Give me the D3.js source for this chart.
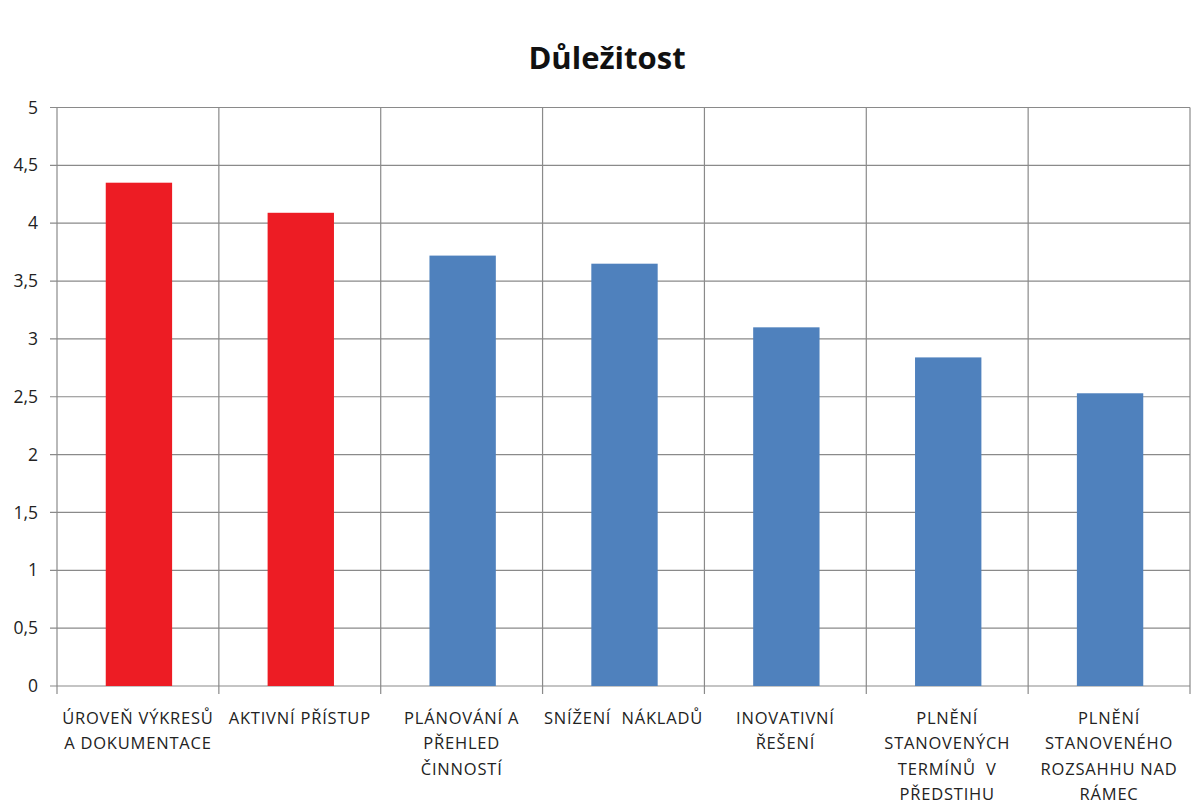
<!DOCTYPE html>
<html>
<head>
<meta charset="utf-8">
<script src="https://cdn.jsdelivr.net/npm/d3@7"></script>
<style>
  body { margin: 0; background: #fff; }
  text { font-family: "Open Sans", "Noto Sans", sans-serif; fill: #222; }
</style>
</head>
<body>
<div id="chart"></div>
<script>
// categories (label lines) and values
const categories = [
  ["ÚROVEŇ VÝKRESŮ", "A DOKUMENTACE"],
  ["AKTIVNÍ PŘÍSTUP"],
  ["PLÁNOVÁNÍ A", "PŘEHLED", "ČINNOSTÍ"],
  ["SNÍŽENÍ  NÁKLADŮ"],
  ["INOVATIVNÍ", "ŘEŠENÍ"],
  ["PLNĚNÍ", "STANOVENÝCH", "TERMÍNŮ  V", "PŘEDSTIHU"],
  ["PLNĚNÍ", "STANOVENÉHO", "ROZSAHHU NAD", "RÁMEC"]
];
const values = [4.35, 4.09, 3.72, 3.65, 3.10, 2.84, 2.53];
const highlighted = [true, true, false, false, false, false, false];
const yTicks = [0, 0.5, 1, 1.5, 2, 2.5, 3, 3.5, 4, 4.5, 5];

const W = 1198, H = 808;
const mLeft = 57, mRight = 1190, mTop = 107.5, mBottom = 686;

const svg = d3.select("#chart").append("svg")
  .attr("width", W)
  .attr("height", H);

const x = d3.scaleBand()
  .domain(d3.range(categories.length))
  .range([mLeft, mRight]);

const y = d3.scaleLinear()
  .domain([0, 5])
  .range([mBottom, mTop]);

// title
svg.append("text")
  .attr("x", 607)
  .attr("y", 69)
  .attr("text-anchor", "middle")
  .style("font-size", "31px")
  .style("font-weight", "bold")
  .style("fill", "#111")
  .text("Důležitost");

// horizontal gridlines + y tick marks
svg.append("g").selectAll("line")
  .data(yTicks)
  .enter().append("line")
    .attr("x1", mLeft - 7)
    .attr("x2", mRight)
    .attr("y1", d => y(d))
    .attr("y2", d => y(d))
    .style("stroke", "#8a8a8a")
    .style("stroke-width", 1.2);

// vertical gridlines at category boundaries
const bounds = d3.range(categories.length + 1).map(i => mLeft + i * x.step());
svg.append("g").selectAll("line")
  .data(bounds)
  .enter().append("line")
    .attr("x1", d => d)
    .attr("x2", d => d)
    .attr("y1", mTop)
    .attr("y2", mBottom + 8)
    .style("stroke", "#8a8a8a")
    .style("stroke-width", 1.2);

// y labels
svg.append("g").selectAll("text")
  .data(yTicks)
  .enter().append("text")
    .attr("x", 38)
    .attr("y", d => y(d))
    .attr("dy", "0.35em")
    .attr("text-anchor", "end")
    .style("font-size", "17.5px")
    .text(d => String(d).replace(".", ","));

// bars
const barW = x.bandwidth() * 0.41;
svg.append("g").selectAll("rect")
  .data(values)
  .enter().append("rect")
    .attr("x", (d, i) => x(i) + x.bandwidth() / 2 - barW / 2 + 1)
    .attr("y", d => y(d))
    .attr("width", barW)
    .attr("height", d => y(0) - y(d))
    .style("fill", (d, i) => highlighted[i] ? "#ED1C24" : "#4F81BD");

// category labels
const lab = svg.append("g").selectAll("text")
  .data(categories)
  .enter().append("text")
    .attr("text-anchor", "middle")
    .style("font-size", "16.5px")
    .style("letter-spacing", "0.8px");
lab.each(function(lines, i) {
  const t = d3.select(this);
  lines.forEach((s, j) => {
    t.append("tspan")
      .attr("x", x(i) + x.bandwidth() / 2)
      .attr("y", 724 + j * 25.3)
      .style("white-space", "pre")
      .text(s);
  });
});
</script>
</body>
</html>
